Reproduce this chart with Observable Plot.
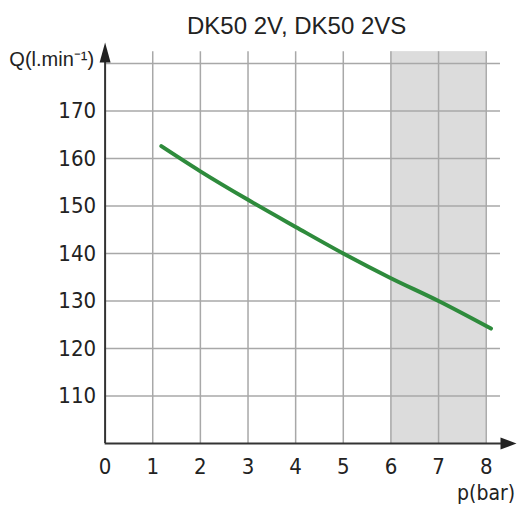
<!DOCTYPE html>
<html><head><meta charset="utf-8">
<script src="https://cdn.jsdelivr.net/npm/d3@7"></script>
<script src="https://cdn.jsdelivr.net/npm/@observablehq/plot@0.6"></script>
<style>body{margin:0;background:#fff}</style>
</head><body><div id="chart"></div>
<script>
const pressure = [1.18, 2, 3, 4, 5, 6, 7, 8.1];
const flow = [162.6, 157.3, 151.3, 145.6, 140, 134.8, 130, 124.2];
const xTicks = [0, 1, 2, 3, 4, 5, 6, 7, 8];
const yTicks = [110, 120, 130, 140, 150, 160, 170];
const shadedRange = [6, 8];
const title = "DK50 2V, DK50 2VS";
const yLabel = "Q(l.min⁻¹)";
const xLabel = "p(bar)";

const data = pressure.map((p, i) => ({p, q: flow[i]}));
const narrow = "'Liberation Sans Narrow', 'DejaVu Sans Condensed', sans-serif";
const arial = "'Liberation Sans', Arial, sans-serif";
const tri = (hw) => ({draw(ctx, l) { ctx.moveTo(-hw, 0); ctx.lineTo(0, -l); ctx.lineTo(hw, 0); ctx.closePath(); }});

const chart = Plot.plot({
  width: 517, height: 505,
  marginLeft: 104.6, marginRight: 31.3, marginTop: 63, marginBottom: 62,
  x: {domain: [0, 8], axis: null},
  y: {domain: [100, 180], axis: null},
  style: {background: "#fff", overflow: "visible"},
  marks: [
    Plot.rect([shadedRange], {x1: d => d[0], x2: d => d[1], y1: d => 100, y2: d => 182.5, fill: "#dcdcdc"}),
    Plot.ruleY(yTicks.concat([180]), {x1: d => 0, x2: d => 8.3, stroke: "#a8a8a8", strokeWidth: 1.5}),
    Plot.ruleX(xTicks.slice(1), {y1: d => 100, y2: d => 182.5, stroke: "#a8a8a8", strokeWidth: 1.5}),
    Plot.line(data, {x: "p", y: "q", stroke: "#2e8b3c", strokeWidth: 4, curve: "monotone-x"}),
    Plot.ruleX([0], {y1: d => 100, y2: d => 180.5, stroke: "#333", strokeWidth: 2}),
    Plot.ruleY([100], {x1: d => 0, x2: d => 8.32, stroke: "#333", strokeWidth: 2}),
    Plot.vector([0], {x: d => 0, y: d => 180.2, length: 20, rotate: 0, anchor: "start", shape: tri(5.5), fill: "#222", stroke: "none"}),
    Plot.vector([0], {x: d => 8.3, y: d => 100, length: 16, rotate: 90, anchor: "start", shape: tri(6), fill: "#222", stroke: "none"}),
    Plot.text(yTicks, {y: d => d, text: d => String(d), frameAnchor: "left", dx: -9, textAnchor: "end", fontSize: 22, fontFamily: narrow, fill: "#222"}),
    Plot.text(xTicks, {x: d => d, text: d => String(d), frameAnchor: "bottom", dy: 23, lineAnchor: "middle", fontSize: 22, fontFamily: narrow, fill: "#222"}),
    Plot.text([title], {frameAnchor: "top", dx: 1, dy: -30, lineAnchor: "bottom", fontSize: 24, fontFamily: arial, fill: "#222", text: d => d}),
    Plot.text([yLabel], {frameAnchor: "top-left", dx: -11, dy: 2, textAnchor: "end", lineAnchor: "bottom", fontSize: 20, fontFamily: arial, fill: "#222", text: d => d}),
    Plot.text([xLabel], {frameAnchor: "bottom-right", dx: 29, dy: 56, textAnchor: "end", lineAnchor: "bottom", fontSize: 21, fontFamily: narrow, fill: "#222", text: d => d})
  ]
});
document.getElementById("chart").appendChild(chart);
</script>
</body></html>
